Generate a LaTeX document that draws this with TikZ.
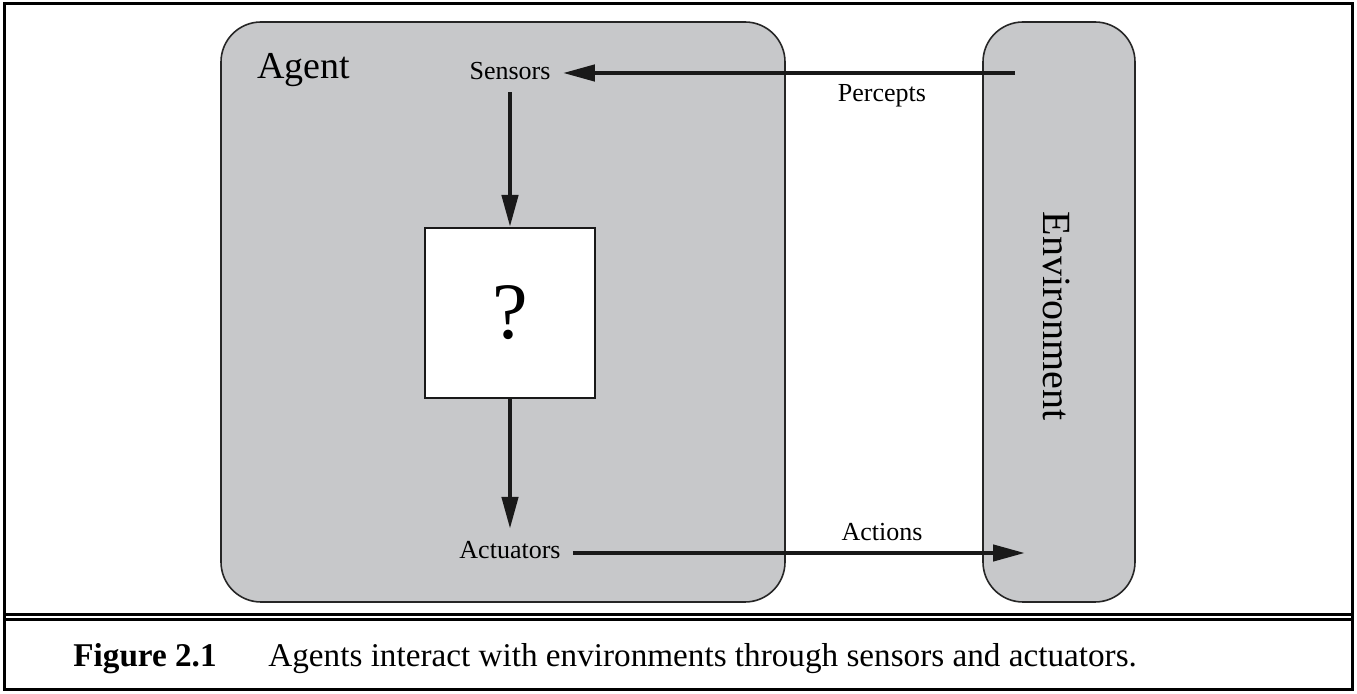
\documentclass[tikz,border=0pt]{standalone}
\usepackage{fontspec}
\setmainfont{Liberation Serif}
\usetikzlibrary{arrows.meta, positioning}

\definecolor{boxgray}{RGB}{199,200,202}

\begin{document}
\begin{tikzpicture}[x=0.5pt, y=-0.5pt]
        % Define block styles
        \tikzstyle{roundbox} = [rectangle, draw=black!85, fill=boxgray, line width=0.8pt, rounded corners=20pt]
        \tikzstyle{squarebox} = [rectangle, draw=black!90, fill=white, line width=1pt, minimum size=85pt, inner sep=0pt, font=\fontsize{40}{40}\selectfont]
        \tikzstyle{textnode} = [inner sep=6pt, font=\fontsize{13}{13}\selectfont]
        \tikzstyle{line} = [draw=black!90, line width=2.2pt, -{Triangle[length=16pt, width=8pt]}]
        \tikzstyle{frame} = [draw=black, line width=1.5pt]

        \useasboundingbox (0,0) rectangle (1357,694);

        % Outer frame and caption
        \draw[frame] (4,4) rectangle (1352,690);
        \draw[frame] (4,615) -- (1352,615);
        \draw[frame] (4,620) -- (1352,620);
        \node[anchor=base west, inner sep=0pt, font=\fontsize{16.6}{16.6}\selectfont\bfseries] (fig) at (73,667) {Figure 2.1};
        \node[anchor=base west, inner sep=0pt, font=\fontsize{16.6}{16.6}\selectfont] (cap) at (268,667) {Agents interact with environments through sensors and actuators.};

        % Define nodes
        \node[roundbox, minimum width=282pt, minimum height=290pt] (agent) at (503,312) {};
        \node[roundbox, minimum width=76pt, minimum height=290pt] (env) at (1059,312) {};
        \node[anchor=base west, inner sep=0pt, font=\fontsize{19}{19}\selectfont] (agentlabel) at (257,79) {Agent};
        \node[rotate=-90, inner sep=0pt, font=\fontsize{20}{20}\selectfont] (envlabel) at (1057,316) {Environment};
        \node[textnode] (sensors) at (510,71) {Sensors};
        \node[squarebox] (q) at (510,313) {?};
        \node[textnode] (actuators) at (510,550) {Actuators};
        \node[textnode, inner sep=0pt] (percepts) at (882,96) {Percepts};
        \node[textnode, inner sep=0pt] (actions) at (882,532) {Actions};
        \coordinate (pstart) at (1015,73);
        \coordinate (aend) at (1025,553);

        % Connect nodes with paths
        \draw[line] (pstart) -- (pstart -| sensors.east);
        \draw[line] (sensors.south) -- (q.north);
        \draw[line] (q.south) -- (actuators.north);
        \draw[line] (actuators.east |- aend) -- (aend);

    \end{tikzpicture}
\end{document}
